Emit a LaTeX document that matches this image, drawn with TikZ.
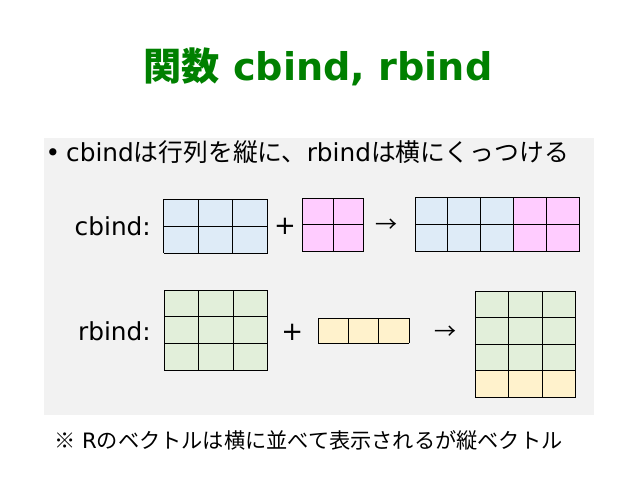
\documentclass[tikz,border=0pt]{standalone}
\usepackage{fontspec}
\setmainfont{DejaVu Sans}
\newfontfamily\cjk{Noto Sans CJK JP}
\definecolor{cblue}{HTML}{DEEBF7}
\definecolor{cpink}{HTML}{FFCCFF}
\definecolor{cgreen}{HTML}{E2EFDA}
\definecolor{cyellow}{HTML}{FFF2CC}
\definecolor{cgray}{HTML}{F2F2F2}
\definecolor{ctitle}{HTML}{008000}
% #1 x0, #2 y0, #3 cw, #4 ch, #5 ncols, #6 nrows
\newcommand\mygrid[6]{%
  \foreach \i in {0,...,#5} \draw[gridline] ({#1+\i*#3},{-#2}) -- ++(0,{-#6*#4});
  \foreach \j in {0,...,#6} \draw[gridline] ({#1},{-#2-\j*#4}) -- ++({#5*#3},0);
}
\newcommand\myfill[7]{\fill[#7] ({#1},{-#2}) rectangle ++({#5*#3},{-#6*#4});}
\begin{document}
\begin{tikzpicture}[x=1pt,y=1pt,
  gridline/.style={line width=1pt,black},
  bodytext/.style={inner sep=0pt,font=\fontsize{24.8}{28}\selectfont},
  optext/.style={inner sep=0pt,font=\fontsize{26}{30}\selectfont}]
\useasboundingbox (0,0) rectangle (638,-479);
\fill[white] (0,0) rectangle (638,-479);
\fill[cgray] (44,-138) rectangle (594,-414.5);
% title
\node[inner sep=0pt,anchor=base,text=ctitle,font=\fontsize{38.2}{42}\selectfont\bfseries] (title) at (318,-80) {{\cjk 関数} cbind, rbind};
% bullet
\node[bodytext,anchor=base] (bullet) at (53,-161) {•};
\node[bodytext,anchor=base west] (line1) at (66,-161) {cbind{\cjk は行列を縦に、}rbind{\cjk は横にくっつける}};
% labels
\node[bodytext,anchor=east] (clab) at (151,-226) {cbind:};
\node[bodytext,anchor=east] (rlab) at (151,-331) {rbind:};
\node[optext] (plus1) at (285,-226) {+};
\node[optext] (plus2) at (292.3,-332) {+};
\node[inner sep=0pt,font=\fontsize{22}{26}\selectfont] (arr1) at (386,-226) {\cjk →};
\node[inner sep=0pt,font=\fontsize{22}{26}\selectfont] (arr2) at (445,-333) {\cjk →};
% cbind matrices
\myfill{163.5}{199.3}{34.7}{27}{3}{2}{cblue}
\mygrid{163.5}{199.3}{34.7}{27}{3}{2}
\myfill{302.3}{198.3}{30.7}{26.5}{2}{2}{cpink}
\mygrid{302.3}{198.3}{30.7}{26.5}{2}{2}
\myfill{415}{197.3}{32.9}{26.9}{3}{2}{cblue}
\myfill{513.7}{197.3}{32.9}{26.9}{2}{2}{cpink}
\mygrid{415}{197.3}{32.9}{26.9}{5}{2}
% rbind matrices
\myfill{164}{290.3}{34.6}{26.6}{3}{3}{cgreen}
\mygrid{164}{290.3}{34.6}{26.6}{3}{3}
\myfill{318.3}{318.3}{30.3}{25}{3}{1}{cyellow}
\mygrid{318.3}{318.3}{30.3}{25}{3}{1}
\myfill{475.3}{291}{33.5}{26.6}{3}{3}{cgreen}
\myfill{475.3}{370.8}{33.5}{26.6}{3}{1}{cyellow}
\mygrid{475.3}{291}{33.5}{26.6}{3}{4}
% footnote
\node[inner sep=0pt,anchor=base west,font=\fontsize{21.2}{25}\selectfont] (foot) at (54,-448) {{\cjk ※} R{\cjk のベクトルは横に並べて表示されるが縦ベクトル}};
\end{tikzpicture}
\end{document}
